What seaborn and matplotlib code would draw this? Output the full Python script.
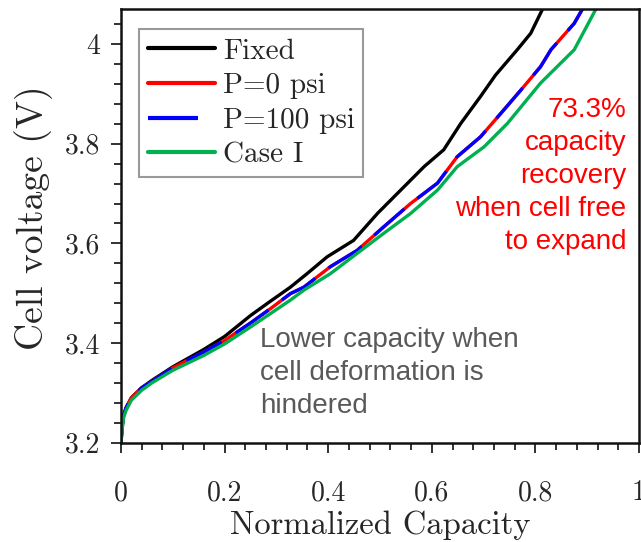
import matplotlib
matplotlib.use("Agg")
import matplotlib.pyplot as plt
from matplotlib.ticker import MultipleLocator, FuncFormatter
import seaborn as sns
import pandas as pd

# ---- data ----
fixed_x = [0, 0.002, 0.005, 0.01, 0.02, 0.04, 0.06, 0.10, 0.16, 0.20, 0.25, 0.286,
           0.327, 0.359, 0.398, 0.449, 0.495, 0.540, 0.585, 0.623, 0.656, 0.694,
           0.723, 0.765, 0.791, 0.814]
fixed_y = [3.20, 3.23, 3.255, 3.27, 3.29, 3.31, 3.325, 3.352, 3.387, 3.413, 3.455, 3.482,
           3.512, 3.539, 3.573, 3.606, 3.660, 3.707, 3.754, 3.788, 3.841, 3.895,
           3.938, 3.989, 4.022, 4.071]

p0_x = [0, 0.002, 0.005, 0.01, 0.02, 0.04, 0.06, 0.10, 0.16, 0.20, 0.25, 0.29,
        0.327, 0.353, 0.404, 0.456, 0.507, 0.559, 0.611, 0.649, 0.694, 0.739,
        0.772, 0.810, 0.830, 0.875, 0.891]
p0_y = [3.20, 3.23, 3.255, 3.27, 3.29, 3.31, 3.323, 3.35, 3.382, 3.405, 3.44, 3.47,
        3.499, 3.512, 3.553, 3.586, 3.633, 3.680, 3.721, 3.774, 3.814, 3.868,
        3.908, 3.955, 3.989, 4.042, 4.071]

p100_x = list(p0_x)
p100_y = list(p0_y)

case1_x = [0, 0.002, 0.005, 0.01, 0.02, 0.04, 0.06, 0.10, 0.16, 0.20, 0.25, 0.29,
           0.327, 0.353, 0.404, 0.456, 0.507, 0.559, 0.611, 0.649, 0.701, 0.746,
           0.810, 0.875, 0.917]
case1_y = [3.20, 3.225, 3.25, 3.265, 3.285, 3.305, 3.32, 3.345, 3.375, 3.398, 3.432, 3.46,
           3.486, 3.506, 3.539, 3.580, 3.620, 3.660, 3.707, 3.754, 3.794, 3.841,
           3.922, 3.989, 4.071]

labels = ["Fixed", "P=0 psi", "P=100 psi", "Case I"]

# ---- style ----
sns.set_style("ticks")
plt.rcParams["font.family"] = ["cmr10", "DejaVu Serif"]
plt.rcParams["axes.formatter.use_mathtext"] = True
plt.rcParams["mathtext.fontset"] = "cm"

fig = plt.figure(figsize=(6.41, 5.42), dpi=100)
ax = fig.add_axes([121 / 641, (542 - 442.5) / 542, 518 / 641, (442.5 - 8.6) / 542])

lw = 2.4
series = [
    (fixed_x, fixed_y, labels[0], "#000000", "-"),
    (p0_x, p0_y, labels[1], "#ff0000", "-"),
    (p100_x, p100_y, labels[2], "#0000ff", (0, (12, 5))),
    (case1_x, case1_y, labels[3], "#00b050", "-"),
]
for xs, ys, lab, col, ls in series:
    df = pd.DataFrame({"x": xs, "y": ys})
    sns.lineplot(data=df, x="x", y="y", ax=ax, color=col, linewidth=lw,
                 linestyle=ls, label=lab, sort=False, estimator=None)

ax.set_xlim(0, 1.0)
ax.set_ylim(3.2, 4.0716)
ax.xaxis.set_major_locator(MultipleLocator(0.2))
ax.xaxis.set_minor_locator(MultipleLocator(0.04))
ax.yaxis.set_major_locator(MultipleLocator(0.2))
ax.yaxis.set_minor_locator(MultipleLocator(0.04))
fmt = FuncFormatter(lambda v, p: "{:g}".format(round(v, 3)))
ax.xaxis.set_major_formatter(fmt)
ax.yaxis.set_major_formatter(fmt)

ax.tick_params(axis="both", which="major", direction="out", length=7, width=1.3,
               labelsize=20, color="#222222")
ax.tick_params(axis="both", which="minor", direction="out", length=5, width=1.3,
               color="#222222")
ax.tick_params(axis="x", which="major", pad=20)
ax.tick_params(axis="y", which="major", pad=8)
for s in ax.spines.values():
    s.set_linewidth(1.8)
    s.set_color("#111111")

ax.set_xlabel("Normalized Capacity", fontsize=23.5, labelpad=3)
ax.set_ylabel("Cell voltage (V)", fontsize=27)
ax.yaxis.set_label_coords(-0.131, 0.517)

leg = ax.legend(loc="upper left", bbox_to_anchor=(0.0347, 0.952), borderaxespad=0,
                fontsize=21, frameon=True, fancybox=False, edgecolor="#808080",
                handlelength=2.3, handletextpad=0.27, labelspacing=0.28,
                borderpad=0.3)
leg.get_frame().set_linewidth(1.5)
for line in leg.get_lines():
    line.set_linewidth(3.0)

ax.text(0.269, 3.433, "Lower capacity when\ncell deformation is\nhindered",
        fontsize=20, color="#595959", family="Liberation Sans",
        ha="left", va="top", linespacing=1.36)
ax.text(0.975, 3.895, "73.3%\ncapacity\nrecovery\nwhen cell free\nto expand",
        fontsize=20, color="#ff0000", family="Liberation Sans",
        ha="right", va="top", multialignment="right", linespacing=1.36)

fig.savefig("out.png", dpi=100)
